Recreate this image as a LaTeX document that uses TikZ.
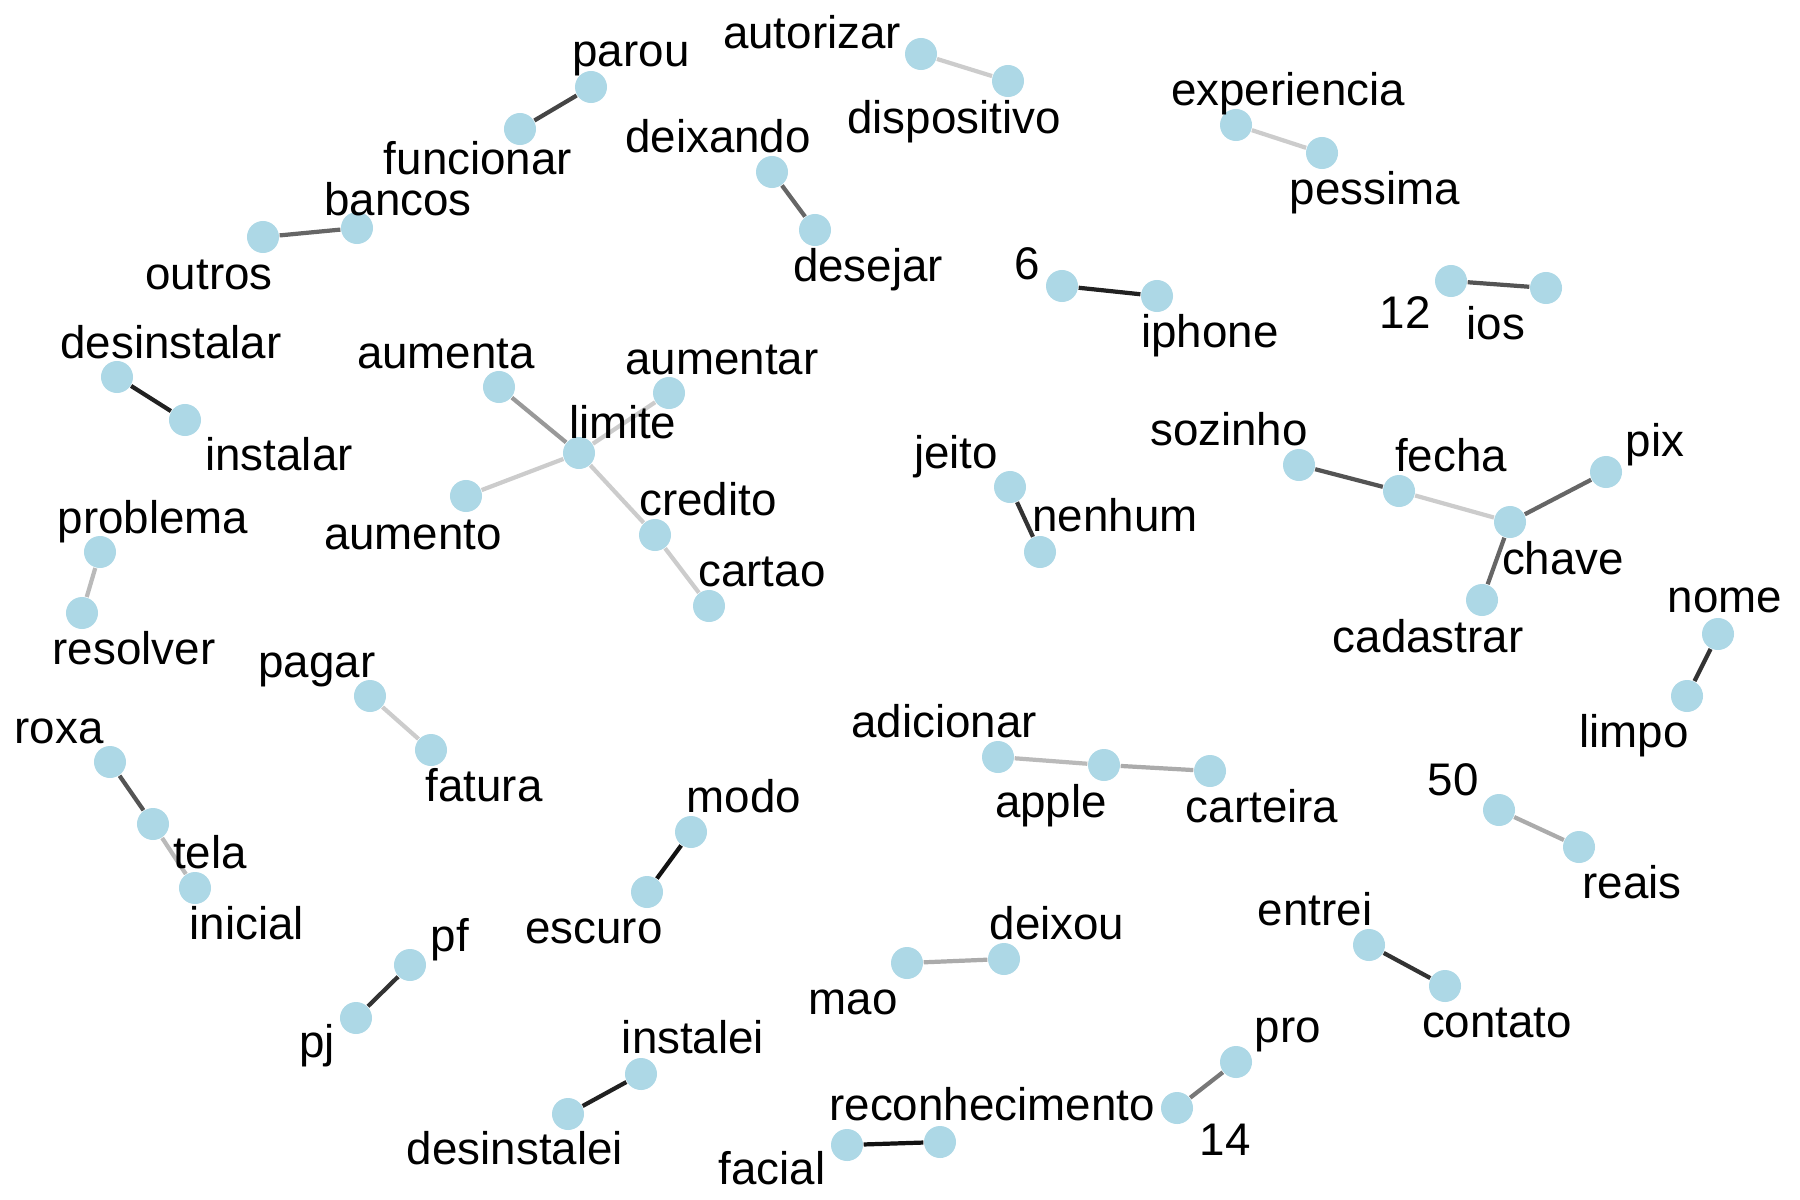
\documentclass[tikz,border=0pt]{standalone}
\usepackage{fontspec}
\setmainfont{Liberation Sans}
\usepackage{xcolor}
\usetikzlibrary{backgrounds}
\definecolor{dotblue}{HTML}{ADD8E6}

\begin{document}
\begin{tikzpicture}[x=0.01cm,y=-0.01cm,
  w/.style={circle,fill=dotblue,inner sep=0pt,minimum size=0.32cm},
  lb/.style={anchor=base,inner sep=0pt,font=\fontsize{13}{15}\selectfont},
  ln/.style={line width=1.2pt,draw=black!#1}]
  \useasboundingbox (0,0) rectangle (1800,1200);
  % top left
  \node[w] (parou) at (591,87) {};
  \node[lb] (lparou) at (631,67) {parou};
  \node[w] (funcionar) at (520,129) {};
  \node[lb] (lfuncionar) at (478,174) {funcionar};
  \node[w] (bancos) at (357,228) {};
  \node[lb] (lbancos) at (398,215) {bancos};
  \node[w] (outros) at (263,237) {};
  \node[lb] (loutros) at (209,289) {outros};
  \node[w] (desinstalar) at (117,377) {};
  \node[lb] (ldesinstalar) at (171,358) {desinstalar};
  \node[w] (instalar) at (185,420) {};
  \node[lb] (linstalar) at (279,470) {instalar};
  \node[w] (problema) at (100,552) {};
  \node[lb] (lproblema) at (153,533) {problema};
  \node[w] (resolver) at (82,613) {};
  \node[lb] (lresolver) at (134,664) {resolver};
  % limite cluster
  \node[w] (limite) at (579,453) {};
  \node[lb] (llimite) at (623,438) {limite};
  \node[w] (aumenta) at (499,387) {};
  \node[lb] (laumenta) at (446,368) {aumenta};
  \node[w] (aumentar) at (669,393) {};
  \node[lb] (laumentar) at (722,374) {aumentar};
  \node[w] (aumento) at (466,496) {};
  \node[lb] (laumento) at (413,549) {aumento};
  \node[w] (credito) at (655,535) {};
  \node[lb] (lcredito) at (708,515) {credito};
  \node[w] (cartao) at (709,606) {};
  \node[lb] (lcartao) at (762,586) {cartao};
  % top middle
  \node[w] (autorizar) at (921,54) {};
  \node[lb] (lautorizar) at (812,48) {autorizar};
  \node[w] (dispositivo) at (1008,81) {};
  \node[lb] (ldispositivo) at (954,133) {dispositivo};
  \node[w] (deixando) at (772,172) {};
  \node[lb] (ldeixando) at (718,152) {deixando};
  \node[w] (desejar) at (815,230) {};
  \node[lb] (ldesejar) at (868,281) {desejar};
  \node[w] (n6) at (1062,286) {};
  \node[lb] (ln6) at (1027,279) {6};
  \node[w] (iphone) at (1157,296) {};
  \node[lb] (liphone) at (1210,347) {iphone};
  \node[w] (jeito) at (1010,487) {};
  \node[lb] (ljeito) at (956,468) {jeito};
  \node[w] (nenhum) at (1040,552) {};
  \node[lb] (lnenhum) at (1115,531) {nenhum};
  % top right
  \node[w] (experiencia) at (1236,125) {};
  \node[lb] (lexperiencia) at (1288,105) {experiencia};
  \node[w] (pessima) at (1322,153) {};
  \node[lb] (lpessima) at (1375,204) {pessima};
  \node[w] (n12) at (1451,281) {};
  \node[lb] (ln12) at (1405,328) {12};
  \node[w] (ios) at (1546,288) {};
  \node[lb] (lios) at (1496,339) {ios};
  % chave cluster
  \node[w] (sozinho) at (1299,465) {};
  \node[lb] (lsozinho) at (1229,445) {sozinho};
  \node[w] (fecha) at (1399,491) {};
  \node[lb] (lfecha) at (1451,471) {fecha};
  \node[w] (chave) at (1510,522) {};
  \node[lb] (lchave) at (1563,574) {chave};
  \node[w] (pix) at (1606,472) {};
  \node[lb] (lpix) at (1655,456) {pix};
  \node[w] (cadastrar) at (1482,600) {};
  \node[lb] (lcadastrar) at (1428,652) {cadastrar};
  \node[w] (nome) at (1718,634) {};
  \node[lb] (lnome) at (1725,612) {nome};
  \node[w] (limpo) at (1687,696) {};
  \node[lb] (llimpo) at (1634,747) {limpo};
  % bottom left
  \node[w] (pagar) at (370,696) {};
  \node[lb] (lpagar) at (317,677) {pagar};
  \node[w] (fatura) at (431,750) {};
  \node[lb] (lfatura) at (484,801) {fatura};
  \node[w] (roxa) at (110,762) {};
  \node[lb] (lroxa) at (59,743) {roxa};
  \node[w] (tela) at (153,824) {};
  \node[lb] (ltela) at (210,868) {tela};
  \node[w] (inicial) at (195,888) {};
  \node[lb] (linicial) at (247,939) {inicial};
  \node[w] (pf) at (410,965) {};
  \node[lb] (lpf) at (450,951) {pf};
  \node[w] (pj) at (356,1018) {};
  \node[lb] (lpj) at (317,1057) {pj};
  \node[w] (modo) at (691,832) {};
  \node[lb] (lmodo) at (744,812) {modo};
  \node[w] (escuro) at (647,892) {};
  \node[lb] (lescuro) at (594,943) {escuro};
  \node[w] (instalei) at (641,1074) {};
  \node[lb] (linstalei) at (693,1053) {instalei};
  \node[w] (desinstalei) at (568,1114) {};
  \node[lb] (ldesinstalei) at (515,1164) {desinstalei};
  % bottom middle
  \node[w] (adicionar) at (998,757) {};
  \node[lb] (ladicionar) at (944,737) {adicionar};
  \node[w] (apple) at (1104,765) {};
  \node[lb] (lapple) at (1051,817) {apple};
  \node[w] (carteira) at (1210,771) {};
  \node[lb] (lcarteira) at (1262,822) {carteira};
  \node[w] (mao) at (907,963) {};
  \node[lb] (lmao) at (853,1014) {mao};
  \node[w] (deixou) at (1004,959) {};
  \node[lb] (ldeixou) at (1057,939) {deixou};
  \node[w] (facial) at (847,1145) {};
  \node[lb] (lfacial) at (772,1184) {facial};
  \node[w] (reconhecimento) at (940,1142) {};
  \node[lb] (lreconhecimento) at (992,1120) {reconhecimento};
  % bottom right
  \node[w] (n14) at (1177,1108) {};
  \node[lb] (ln14) at (1225,1155) {14};
  \node[w] (pro) at (1236,1062) {};
  \node[lb] (lpro) at (1288,1042) {pro};
  \node[w] (entrei) at (1369,945) {};
  \node[lb] (lentrei) at (1315,925) {entrei};
  \node[w] (contato) at (1445,986) {};
  \node[lb] (lcontato) at (1497,1037) {contato};
  \node[w] (n50) at (1499,810) {};
  \node[lb] (ln50) at (1453,795) {50};
  \node[w] (reais) at (1579,847) {};
  \node[lb] (lreais) at (1632,898) {reais};
  % edges, shade = weight
  \begin{scope}[on background layer]
    \draw[ln=73] (funcionar) -- (parou);
    \draw[ln=60] (outros) -- (bancos);
    \draw[ln=87] (desinstalar) -- (instalar);
    \draw[ln=27] (problema) -- (resolver);
    \draw[ln=40] (aumenta) -- (limite);
    \draw[ln=20] (aumentar) -- (limite);
    \draw[ln=20] (aumento) -- (limite);
    \draw[ln=20] (limite) -- (credito);
    \draw[ln=20] (credito) -- (cartao);
    \draw[ln=20] (autorizar) -- (dispositivo);
    \draw[ln=60] (deixando) -- (desejar);
    \draw[ln=87] (n6) -- (iphone);
    \draw[ln=80] (jeito) -- (nenhum);
    \draw[ln=20] (experiencia) -- (pessima);
    \draw[ln=67] (n12) -- (ios);
    \draw[ln=67] (sozinho) -- (fecha);
    \draw[ln=20] (fecha) -- (chave);
    \draw[ln=60] (chave) -- (pix);
    \draw[ln=60] (chave) -- (cadastrar);
    \draw[ln=80] (nome) -- (limpo);
    \draw[ln=20] (pagar) -- (fatura);
    \draw[ln=67] (roxa) -- (tela);
    \draw[ln=27] (tela) -- (inicial);
    \draw[ln=80] (pf) -- (pj);
    \draw[ln=93] (modo) -- (escuro);
    \draw[ln=87] (instalei) -- (desinstalei);
    \draw[ln=27] (adicionar) -- (apple);
    \draw[ln=33] (apple) -- (carteira);
    \draw[ln=33] (mao) -- (deixou);
    \draw[ln=93] (facial) -- (reconhecimento);
    \draw[ln=53] (n14) -- (pro);
    \draw[ln=80] (entrei) -- (contato);
    \draw[ln=33] (n50) -- (reais);
  \end{scope}
\end{tikzpicture}
\end{document}
